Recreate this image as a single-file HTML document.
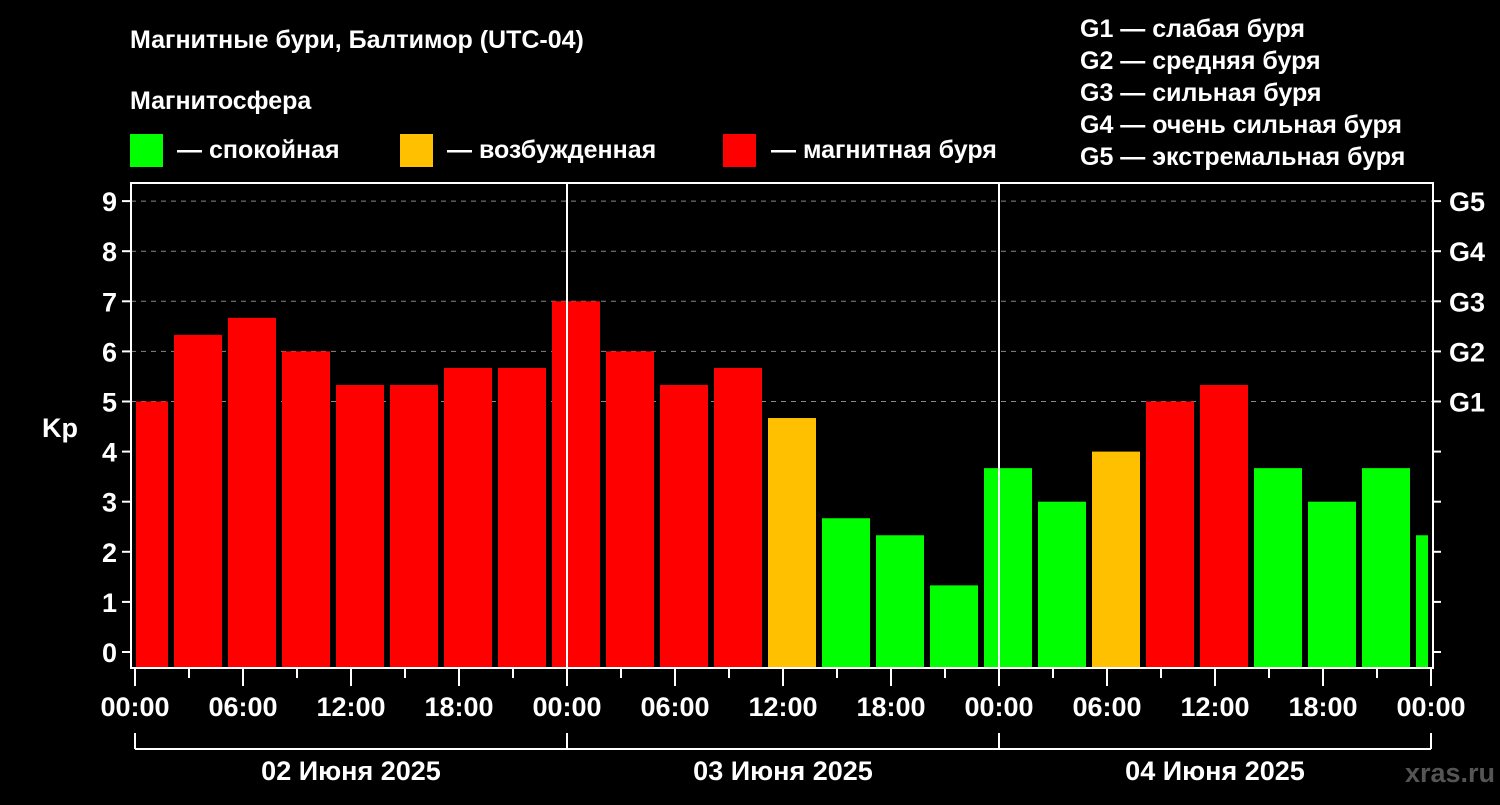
<!DOCTYPE html>
<html><head><meta charset="utf-8">
<style>
body{margin:0;background:#000;width:1500px;height:800px;overflow:hidden}
svg text{font-family:"Liberation Sans",sans-serif;font-weight:bold;fill:#fff}
</style></head>
<body>
<svg id="c" width="1500" height="800" xmlns="http://www.w3.org/2000/svg">
<text x="130" y="48" font-size="25">Магнитные бури, Балтимор (UTC-04)</text>
<text x="130" y="109" font-size="25">Магнитосфера</text>
<g>
<rect x="130" y="134" width="33" height="33" fill="#00ff00"/>
<text x="177" y="158" font-size="25">— спокойная</text>
<rect x="400" y="134" width="33" height="33" fill="#ffc000"/>
<text x="447" y="158" font-size="25">— возбужденная</text>
<rect x="723" y="134" width="33" height="33" fill="#ff0000"/>
<text x="771" y="158" font-size="25">— магнитная буря</text>
</g>
<g font-size="25">
<text x="1080" y="37">G1 — слабая буря</text>
<text x="1080" y="69">G2 — средняя буря</text>
<text x="1080" y="101">G3 — сильная буря</text>
<text x="1080" y="133">G4 — очень сильная буря</text>
<text x="1080" y="165">G5 — экстремальная буря</text>
</g>
<text x="42" y="437" font-size="27">Kp</text>
<text x="1495" y="782" font-size="27" text-anchor="end" style="fill:#555">xras.ru</text>
<g id="grid"></g><g id="bars"></g><g id="axes"></g>
</svg>
<script>
const kpValues=[5,6.33,6.67,6,5.33,5.33,5.67,5.67,7,6,5.33,5.67,4.67,2.67,2.33,1.33,3.67,3,4,5,5.33,3.67,3,3.67,2.33];
const yTicks=[0,1,2,3,4,5,6,7,8,9];
const gLabels=["G1","G2","G3","G4","G5"];
const gLevels=[5,6,7,8,9];
const xTickLabels=["00:00","06:00","12:00","18:00","00:00","06:00","12:00","18:00","00:00","06:00","12:00","18:00","00:00"];
const dayLabels=["02 Июня 2025","03 Июня 2025","04 Июня 2025"];
const NS="http://www.w3.org/2000/svg";
const L=131,R=1433,T=183,B=668,X0=135,PXH=18;
const xs=h=>X0+h*PXH;
const ys=v=>652-v*50.1;
function mk(tag,attrs,parent,txt){const e=document.createElementNS(NS,tag);for(const k in attrs)e.setAttribute(k,attrs[k]);if(txt!==undefined)e.textContent=txt;document.getElementById(parent).appendChild(e);return e;}
// grid
gLevels.forEach((v,i)=>{const e=mk('line',{x1:L,x2:R,y1:ys(v),y2:ys(v),stroke:'#888','stroke-dasharray':'5,5','stroke-width':1},'grid');

});
// bars
kpValues.forEach((v,i)=>{let x1=xs(3*i-1)+3,x2=xs(3*i+2)-3;x1=Math.max(x1,L+5);x2=Math.min(x2,R-5);
const col=v>=5?'#ff0000':(v>=4?'#ffc000':'#00ff00');
const e=mk('rect',{x:x1,y:ys(v),width:x2-x1,height:B-ys(v),fill:col},'bars');

});
// day separators
[24,48].forEach(h=>{const e=mk('line',{x1:xs(h),x2:xs(h),y1:T,y2:B,stroke:'#fff','stroke-width':2},'axes');

});
// frame
const f=mk('rect',{x:L,y:T,width:R-L,height:B-T,fill:'none',stroke:'#fff','stroke-width':2},'axes');


yTicks.forEach(v=>{
mk('line',{x1:L-9,x2:L,y1:ys(v),y2:ys(v),stroke:'#fff','stroke-width':2},'axes');
mk('line',{x1:R,x2:R+8,y1:ys(v),y2:ys(v),stroke:'#fff','stroke-width':2},'axes');
const t=mk('text',{x:L-14,y:ys(v)+10,'font-size':27,'text-anchor':'end'},'axes',v);

});
gLevels.forEach((v,i)=>{const t=mk('text',{x:1449,y:ys(v)+10,'font-size':27},'axes',gLabels[i]);

});
for(let h=0;h<=72;h+=3){const major=h%6===0;
mk('line',{x1:xs(h),x2:xs(h),y1:B,y2:B+(major?18:10),stroke:'#fff','stroke-width':2},'axes');}
xTickLabels.forEach((s,i)=>{const t=mk('text',{x:xs(i*6),y:716,'font-size':27,'text-anchor':'middle'},'axes',s);

});
mk('line',{x1:xs(0),x2:xs(72),y1:749,y2:749,stroke:'#fff','stroke-width':2},'axes');
[0,24,48,72].forEach(h=>mk('line',{x1:xs(h),x2:xs(h),y1:733,y2:749,stroke:'#fff','stroke-width':2},'axes'));
dayLabels.forEach((s,i)=>{const t=mk('text',{x:xs(24*i+12),y:780,'font-size':27,'text-anchor':'middle'},'axes',s);

});
</script>
</body></html>
